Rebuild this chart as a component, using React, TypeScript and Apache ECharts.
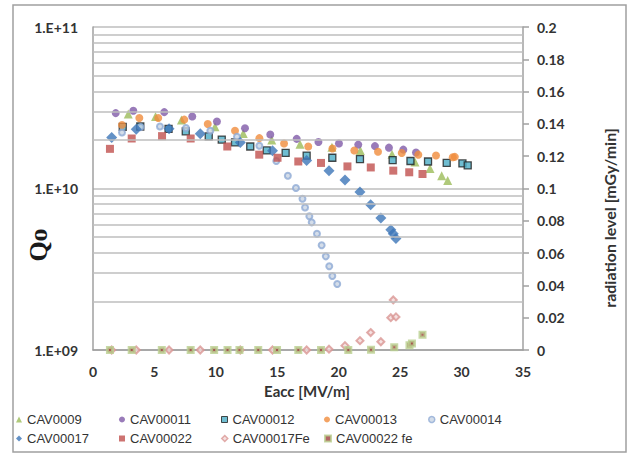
import React, { useEffect, useRef } from "react";
import * as echarts from "echarts";

// ---- data ----
const seriesNames = [
  "CAV0009",
  "CAV00011",
  "CAV00012",
  "CAV00013",
  "CAV00014",
  "CAV00017",
  "CAV00022",
  "CAV00017Fe",
  "CAV00022 fe",
];

const cav0009X = [2.87, 5.09, 7.2, 9.93, 12.23, 14.55, 16.85, 19.45, 21.76, 24.34, 26.21, 27.43, 28.38, 28.87];
const cav0009Q = [2.89e10, 2.79e10, 2.66e10, 2.41e10, 2.19e10, 2.0e10, 1.88e10, 1.8e10, 1.72e10, 1.63e10, 1.46e10, 1.33e10, 1.2e10, 1.12e10];

const cav00011X = [1.85, 3.28, 5.8, 8.08, 10.09, 12.37, 14.43, 16.58, 18.35, 20.02, 21.59, 22.95, 24.09, 25.26, 26.29];
const cav00011Q = [2.93e10, 3.03e10, 2.97e10, 2.79e10, 2.6e10, 2.36e10, 2.16e10, 2.03e10, 1.94e10, 1.9e10, 1.87e10, 1.83e10, 1.79e10, 1.74e10, 1.67e10];

const cav00012X = [2.42, 3.85, 6.15, 7.55, 9.42, 10.48, 11.56, 12.8, 14.14, 15.68, 17.39, 19.48, 21.73, 24.39, 25.84, 27.27, 28.79, 30.07, 30.5];
const cav00012Q = [2.41e10, 2.42e10, 2.34e10, 2.26e10, 2.1e10, 2.01e10, 1.93e10, 1.82e10, 1.72e10, 1.66e10, 1.6e10, 1.55e10, 1.52e10, 1.5e10, 1.48e10, 1.47e10, 1.44e10, 1.43e10, 1.39e10];

const cav00013X = [2.36, 3.77, 5.31, 7.43, 9.34, 11.56, 13.54, 15.55, 17.52, 19.49, 21.27, 23.2, 25.13, 26.48, 27.92, 29.28, 29.45];
const cav00013Q = [2.47e10, 2.73e10, 2.73e10, 2.67e10, 2.51e10, 2.28e10, 2.05e10, 1.9e10, 1.82e10, 1.77e10, 1.72e10, 1.69e10, 1.66e10, 1.62e10, 1.6e10, 1.56e10, 1.57e10];

const cav00014X = [2.36, 3.88, 5.45, 7.57, 9.55, 11.72, 13.54, 14.92, 15.86, 16.52, 17.05, 17.26, 17.61, 17.8, 18.23, 18.61, 18.95, 19.23, 19.48, 19.88];
const cav00014Q = [2.22e10, 2.4e10, 2.42e10, 2.37e10, 2.28e10, 2.09e10, 1.84e10, 1.48e10, 1.2e10, 1.007e10, 8.64e9, 7.63e9, 6.73e9, 6.17e9, 5.25e9, 4.45e9, 3.8e9, 3.3e9, 2.87e9, 2.56e9];

const cav00017X = [1.52, 3.52, 6.19, 8.73, 11.99, 14.61, 17.39, 19.21, 20.51, 21.73, 22.6, 23.43, 24.24, 24.44, 24.66];
const cav00017Q = [2.07e10, 2.33e10, 2.34e10, 2.18e10, 1.93e10, 1.71e10, 1.49e10, 1.29e10, 1.13e10, 9.51e9, 7.93e9, 6.56e9, 5.56e9, 5.25e9, 4.91e9];

const cav00022X = [1.38, 3.15, 5.62, 7.95, 10.93, 13.53, 15.02, 16.71, 18.56, 20.71, 22.61, 24.44, 25.74, 26.82];
const cav00022Q = [1.76e10, 2.04e10, 2.11e10, 2.04e10, 1.82e10, 1.62e10, 1.55e10, 1.47e10, 1.44e10, 1.37e10, 1.35e10, 1.29e10, 1.26e10, 1.23e10];

const cav00017FeX = [1.52, 3.52, 6.19, 8.73, 11.99, 14.61, 17.39, 19.21, 20.51, 21.73, 22.6, 23.43, 24.24, 24.44, 24.66];
const cav00017FeRad = [0, 0, 0, 0, 0, 0, 0, 0.0005, 0.0027, 0.0058, 0.0108, 0.0051, 0.02, 0.031, 0.0205];

const cav00022feX = [1.38, 3.15, 5.6, 7.95, 9.86, 10.95, 11.92, 13.45, 14.98, 16.71, 18.56, 20.78, 22.63, 24.52, 25.76, 25.96, 26.82];
const cav00022feRad = [0, 0, 0, 0, 0, 0, 0, 0, 0, 0, 0, 0, 0.0002, 0.0017, 0.003, 0.004, 0.0095];

const minorGridMantissas = [2, 3, 4, 5, 6, 7, 8, 9];
const minorGridDecades = [1e9, 1e10];

const zip = (xs: number[], ys: number[]) => xs.map((x, i) => [x, ys[i]]);

const FONT = "Lato";
const GRID_COLOR = "#BEBEBE";
const AXIS_COLOR = "#A0A0A0";

export default function App() {
  const ref = useRef<HTMLDivElement>(null);

  useEffect(() => {
    if (!ref.current) return;
    const chart = echarts.init(ref.current, undefined, { renderer: "svg" });

    const minorValues: number[] = [];
    minorGridDecades.forEach((d) => minorGridMantissas.forEach((m) => minorValues.push(m * d)));

    const scatterBase = (name: string, x: number[], y: number[], symbol: string, size: number, itemStyle: any, yAxisIndex = 0) => ({
      name,
      type: "scatter",
      yAxisIndex,
      symbol,
      symbolSize: size,
      itemStyle,
      data: zip(x, y),
      silent: true,
    });

    const legendBorder: Record<string, number> = {
      CAV00012: 1,
      CAV00014: 1.5,
      CAV00017Fe: 1.5,
      "CAV00022 fe": 2,
    };

    const legendLefts = [16, 119, 221, 324, 428];
    const legendTops = [413, 432];
    const legends = seriesNames.map((n, i) => ({
      data: [legendBorder[n] !== undefined ? { name: n, itemStyle: { borderWidth: legendBorder[n] } } : n],
      left: legendLefts[i % 5],
      top: legendTops[Math.floor(i / 5)],
      itemWidth: 6,
      itemHeight: 6,
      itemGap: 0,
      padding: 0,
      selectedMode: false,
      textStyle: { fontFamily: "Liberation Sans", fontSize: 13, color: "#333" },
    }));

    const option: any = {
      animation: false,
      backgroundColor: "#fff",
      grid: { left: 93, right: 112, top: 27, bottom: 105 },
      legend: legends,
      xAxis: {
        type: "value",
        min: 0,
        max: 35,
        interval: 5,
        axisLine: { show: true, lineStyle: { color: AXIS_COLOR, width: 1.5 } },
        axisTick: { show: false },
        splitLine: { show: false },
        axisLabel: { fontFamily: FONT, fontWeight: "bold", fontSize: 14, color: "#333", margin: 14 },
      },
      yAxis: [
        {
          type: "log",
          logBase: 10,
          min: 1e9,
          max: 1e11,
          axisLine: { show: true, lineStyle: { color: AXIS_COLOR, width: 1.5 } },
          axisTick: { show: false },
          splitLine: { show: true, lineStyle: { color: GRID_COLOR, width: 1.5 } },
          axisLabel: {
            fontFamily: FONT,
            fontWeight: "bold",
            fontSize: 14,
            color: "#333",
            margin: 15,
            formatter: (v: number) => "1.E+" + String(Math.round(Math.log10(v))).padStart(2, "0"),
          },
        },
        {
          type: "value",
          min: 0,
          max: 0.2,
          interval: 0.02,
          position: "right",
          axisLine: { show: true, lineStyle: { color: AXIS_COLOR, width: 1.5 } },
          axisTick: { show: true, inside: false, length: 6, lineStyle: { color: AXIS_COLOR, width: 1.5 } },
          splitLine: { show: false },
          axisLabel: { fontFamily: FONT, fontWeight: "bold", fontSize: 14, color: "#333", margin: 14 },
        },
      ],
      graphic: [
        {
          type: "rect",
          shape: { x: 13, y: 5, width: 613, height: 447 },
          style: { fill: "none", stroke: "#A0A0A0", lineWidth: 1.5 },
          silent: true,
        },
        {
          type: "text",
          x: 38,
          y: 245,
          rotation: Math.PI / 2,
          style: {
            text: "Qo",
            fontFamily: "Liberation Serif",
            fontWeight: "bold",
            fontSize: 26,
            fill: "#1a1a1a",
            textAlign: "center",
            textVerticalAlign: "middle",
          },
        },
        {
          type: "text",
          x: 609,
          y: 218,
          rotation: Math.PI / 2,
          style: {
            text: "radiation level [mGy/min]",
            fontFamily: FONT,
            fontWeight: "bold",
            fontSize: 16,
            fill: "#333",
            textAlign: "center",
            textVerticalAlign: "middle",
          },
        },
        {
          type: "text",
          x: 307,
          y: 391,
          style: {
            text: "Eacc [MV/m]",
            fontFamily: FONT,
            fontWeight: "bold",
            fontSize: 15,
            fill: "#333",
            textAlign: "center",
            textVerticalAlign: "middle",
          },
        },
      ],
      series: [
        {
          name: "grid-minor",
          type: "line",
          data: [],
          yAxisIndex: 0,
          silent: true,
          markLine: {
            silent: true,
            symbol: ["none", "none"],
            label: { show: false },
            lineStyle: { color: GRID_COLOR, width: 1.5, type: "solid" },
            emphasis: { disabled: true },
            data: minorValues.map((v) => ({ yAxis: v })),
          },
        },
        scatterBase(seriesNames[0], cav0009X, cav0009Q, "triangle", 9, { color: "#9BBB59" }),
        scatterBase(seriesNames[1], cav00011X, cav00011Q, "circle", 8, { color: "#7F5AA8" }),
        scatterBase(seriesNames[2], cav00012X, cav00012Q, "rect", 7, { color: "#4BACC6", borderColor: "#1e1e1e", borderWidth: 1.3 }),
        scatterBase(seriesNames[3], cav00013X, cav00013Q, "circle", 8, { color: "#F08C3C" }),
        scatterBase(seriesNames[4], cav00014X, cav00014Q, "circle", 6, { color: "#C9D5E4", borderColor: "#8FAAD4", borderWidth: 2 }),
        scatterBase(seriesNames[5], cav00017X, cav00017Q, "diamond", 11, { color: "#3C75B8" }),
        scatterBase(seriesNames[6], cav00022X, cav00022Q, "rect", 8, { color: "#C0504D" }),
        scatterBase(seriesNames[7], cav00017FeX, cav00017FeRad, "diamond", 7, { color: "#F3DADA", borderColor: "#D99694", borderWidth: 2 }, 1),
        scatterBase(seriesNames[8], cav00022feX, cav00022feRad, "rect", 5, { color: "#A0403E", borderColor: "#B9D08F", borderWidth: 3 }, 1),
      ],
    };

    chart.setOption(option);
    return () => chart.dispose();
  }, []);

  return (
    <div
      ref={ref}
      style={{ position: "absolute", left: 0, top: 0, width: 635, height: 455, background: "#fff" }}
    />
  );
}
